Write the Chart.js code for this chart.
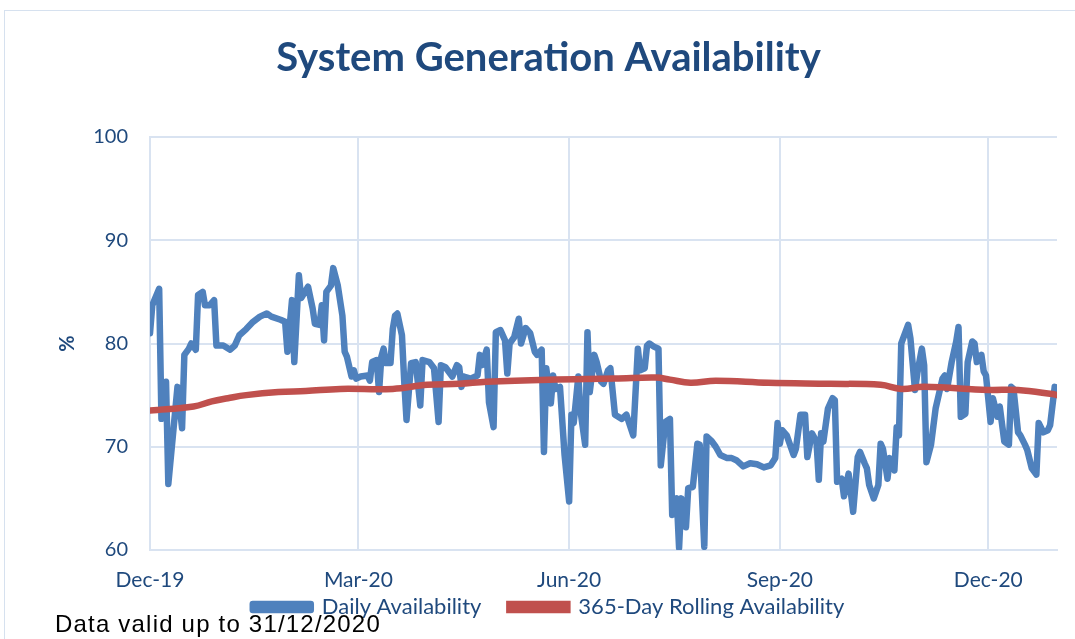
<!DOCTYPE html>
<html>
<head>
<meta charset="utf-8">
<script src="https://cdn.jsdelivr.net/npm/chart.js@4"></script>
<style>
  html, body { margin: 0; padding: 0; background: #fff; overflow: hidden; }
  #wrap { position: relative; width: 1075px; height: 639px; }
  #frame { position: absolute; left: 4px; top: 10px; width: 1100px; height: 700px; border: 1px solid #d6e1ef; }
  #note { position: absolute; left: 55px; top: 610px; font-family: "Liberation Sans", Arial, sans-serif; font-size: 24px; letter-spacing: 1.2px; color: #000; }
</style>
</head>
<body>
<div id="wrap">
  <div id="frame"></div>
  <canvas id="availChart" width="1075" height="639"></canvas>
  <div id="note">Data valid up to 31/12/2020</div>
</div>
<script>
// day 0 = 1 Dec 2019, day 396 = 31 Dec 2020
const tickDays = [0, 91, 183, 275, 366];
const tickLabels = ["Dec-19", "Mar-20", "Jun-20", "Sep-20", "Dec-20"];

// DAILY AVAILABILITY (%)
const dailyDays = [0,1,4,5,7,8,12,14,15,17,18,20,21,23,24,26,28,29,32,35,37,39,42,45,48,51,53,57,59,60,
  62,63,65,66,69,71,72,74,75,76,77,79,80,82,84,85,86,88,89,90,92,95,96,97,99,100,101,102,103,105,
  106,107,108,110,111,112,114,116,118,119,122,124,126,127,129,132,134,135,136,137,140,143,144,145,147,148,150,151,153,155,
  156,157,159,161,162,164,166,168,169,171,172,173,175,176,177,179,181,183,184,185,187,188,190,191,192,194,195,197,198,200,
  201,203,206,208,211,213,214,216,217,218,220,222,223,225,227,228,230,231,232,234,235,237,239,240,242,243,245,247,249,252,
  254,256,259,262,265,268,271,273,274,275,276,278,281,282,284,286,287,289,291,292,293,294,296,298,299,300,302,303,305,307,
  309,310,312,313,314,316,318,319,320,322,323,325,326,327,328,331,332,334,335,337,338,339,341,343,346,347,348,350,352,353,
  354,356,357,359,360,361,363,364,365,367,368,370,371,373,375,376,377,379,380,382,383,385,387,388,390,392,393,395];
const dailyValues = [81.0,83.7,85.3,72.7,76.3,66.4,75.8,71.8,78.9,79.5,80.0,79.4,84.7,85.0,83.7,83.7,84.2,79.8,79.8,79.4,79.8,80.8,81.4,82.1,82.6,82.9,82.6,82.3,82.1,79.2,
  84.2,78.2,86.6,84.4,85.5,83.4,81.9,81.8,83.7,80.3,85.0,85.6,87.3,85.6,82.7,79.2,78.7,76.8,77.4,76.6,76.8,76.9,76.4,78.2,78.4,75.3,78.7,79.5,78.1,78.1,
  81.4,82.7,82.9,80.8,76.3,72.6,78.1,78.2,74.0,78.4,78.2,77.6,72.4,77.9,77.7,76.8,77.9,77.7,75.8,76.8,76.6,76.9,78.9,77.9,79.4,74.3,71.9,81.1,81.3,80.3,
  77.1,80.0,80.6,82.4,80.0,81.5,81.0,79.2,78.9,79.4,69.5,77.6,74.2,76.9,75.6,75.8,69.2,64.7,73.1,72.3,76.8,73.4,70.2,81.1,75.3,78.9,78.2,76.3,76.1,77.4,
  77.6,73.1,72.7,73.1,71.1,79.5,77.4,77.6,79.8,80.0,79.7,79.5,68.2,72.4,72.7,63.4,65.0,60.2,65.0,62.2,66.0,66.1,70.3,70.2,60.3,71.0,70.6,70.0,69.2,68.9,
  68.9,68.7,68.1,68.4,68.3,68.0,68.2,68.9,72.3,70.3,71.6,71.1,69.2,69.8,73.1,73.1,69.0,71.3,70.5,66.8,71.3,70.5,73.7,74.7,74.5,66.6,66.9,65.2,67.4,63.7,
  69.0,69.5,68.4,67.9,66.3,65.0,66.3,70.3,69.8,66.9,68.9,67.7,71.9,71.1,80.0,81.8,80.5,75.5,77.1,79.5,77.9,68.5,70.2,73.7,76.6,76.9,75.6,78.2,80.2,81.6,
  72.9,73.2,78.2,80.2,80.0,78.2,78.9,77.3,76.9,72.4,74.7,72.9,73.9,70.5,70.2,75.8,75.6,71.4,71.1,70.2,69.7,67.9,67.3,72.3,71.4,71.6,72.1,75.8];

// 365-DAY ROLLING AVAILABILITY (%)
const rollingDays = [0,19,27,34,42,56,68,83,106,121,135,147,174,203,221,227,236,247,270,297,319,328,338,366,379,394,396];
const rollingValues = [73.5,73.9,74.4,74.7,75.0,75.3,75.4,75.6,75.6,76.0,76.1,76.3,76.5,76.6,76.7,76.5,76.2,76.4,76.2,76.1,76.0,75.6,75.8,75.5,75.5,75.1,75.0];

const darkBlue = "#1f497d";
const gridBlue = "#d9e3f1";

// pull the legend up closer to the tick labels (its padding also sets the item spacing)
const liftLegend = {
  id: "liftLegend",
  afterLayout(chart) {
    chart.legend.top -= 24;
    chart.legend.bottom -= 24;
  }
};

const ctx = document.getElementById("availChart");

new Chart(ctx, {
  type: "line",
  data: {
    datasets: [
      {
        label: "Daily Availability",
        data: dailyDays.map((d, i) => ({ x: d, y: dailyValues[i] })),
        borderColor: "#4f81bd",
        backgroundColor: "#4f81bd",
        borderWidth: 6.5,
        borderJoinStyle: "round",
        borderCapStyle: "round",
        pointRadius: 0,
        tension: 0,
        order: 1
      },
      {
        label: "365-Day Rolling Availability",
        data: rollingDays.map((d, i) => ({ x: d, y: rollingValues[i] })),
        borderColor: "#c0504d",
        backgroundColor: "#c0504d",
        borderWidth: 6.5,
        borderCapStyle: "round",
        pointRadius: 0,
        tension: 0.4,
        order: 0
      }
    ]
  },
  options: {
    responsive: false,
    animation: false,
    layout: { padding: { top: 20, left: 40, right: 18, bottom: -13 } },
    plugins: {
      title: {
        display: true,
        text: "System Generation Availability",
        color: darkBlue,
        font: { family: "Lato", size: 40, weight: "bold" },
        padding: { top: 14, bottom: 55 }
      },
      legend: {
        position: "bottom",
        labels: {
          color: darkBlue,
          font: { family: "Lato", size: 22 },
          boxWidth: 58,
          boxHeight: 6,
          padding: 28,
          sort: (a, b) => a.datasetIndex - b.datasetIndex
        }
      },
      tooltip: { enabled: false }
    },
    scales: {
      x: {
        type: "linear",
        min: 0,
        max: 396,
        afterBuildTicks: (scale) => {
          scale.ticks = tickDays.map(v => ({ value: v }));
        },
        afterFit: (scale) => { scale.height = 42; },
        ticks: {
          autoSkip: false,
          maxRotation: 0,
          padding: 18,
          color: darkBlue,
          font: { family: "Lato", size: 21 },
          callback: (value) => tickLabels[tickDays.indexOf(value)]
        },
        grid: { color: gridBlue, lineWidth: 2, drawTicks: false },
        border: { color: gridBlue, width: 2 }
      },
      y: {
        min: 60,
        max: 100,
        afterFit: (scale) => { scale.width = 110; },
        ticks: {
          stepSize: 10,
          padding: 22,
          color: darkBlue,
          font: { family: "Lato", size: 20 }
        },
        title: {
          display: true,
          text: "%",
          color: darkBlue,
          font: { family: "Lato", size: 20, weight: "bold" },
          padding: { top: 16, bottom: 0 }
        },
        grid: { color: gridBlue, lineWidth: 2, drawTicks: false },
        border: { color: gridBlue, width: 2 }
      }
    }
  },
  plugins: [liftLegend]
});
</script>
</body>
</html>
